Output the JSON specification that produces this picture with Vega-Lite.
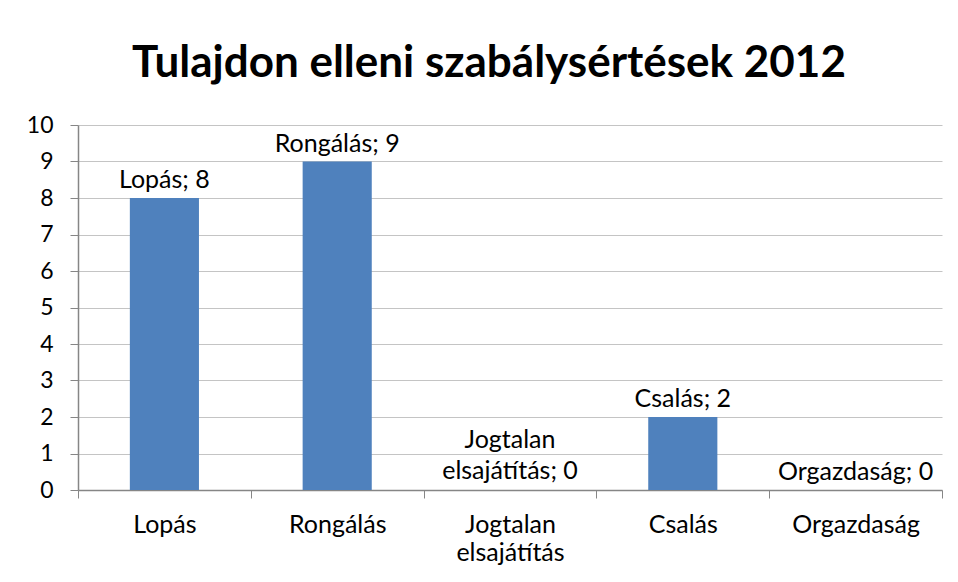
{
  "$schema": "https://vega.github.io/schema/vega-lite/v6.json",
  "width": 864,
  "height": 365,
  "autosize": {"type": "none"},
  "padding": {"left": 78, "top": 125, "right": 16, "bottom": 92},
  "background": "white",
  "title": {
    "text": "Tulajdon elleni szabálysértések 2012",
    "font": "Lato",
    "fontWeight": "bold",
    "fontSize": 44,
    "color": "#000000",
    "anchor": "middle",
    "dx": -21,
    "offset": 28
  },
  "data": {
    "values": [
      {"cat": "Lopás", "value": 8, "label": "Lopás; 8"},
      {"cat": "Rongálás", "value": 9, "label": "Rongálás; 9"},
      {"cat": "Jogtalan elsajátítás", "value": 0, "label": "Jogtalan\nelsajátítás; 0"},
      {"cat": "Csalás", "value": 2, "label": "Csalás; 2"},
      {"cat": "Orgazdaság", "value": 0, "label": "Orgazdaság; 0"}
    ]
  },
  "config": {
    "view": {"stroke": null},
    "axis": {
      "labelFont": "Lato",
      "labelFontSize": 25,
      "labelColor": "#000000",
      "domainColor": "#868686",
      "tickColor": "#868686",
      "gridColor": "#c4c4c4",
      "title": null
    }
  },
  "encoding": {
    "x": {
      "field": "cat",
      "type": "nominal",
      "sort": null,
      "scale": {"paddingInner": 0, "paddingOuter": 0},
      "axis": {
        "labelAngle": 0,
        "tickBand": "extent",
        "tickSize": 8,
        "labelPadding": 14,
        "labelExpr": "isString(datum.value) ? split(datum.value, ' ') : ''",
        "labelLineHeight": 28,
        "grid": false,
        "domainWidth": 1.5
      }
    },
    "y": {
      "field": "value",
      "type": "quantitative",
      "scale": {"domain": [0, 10], "nice": false},
      "axis": {
        "values": [0, 1, 2, 3, 4, 5, 6, 7, 8, 9, 10],
        "tickSize": 8,
        "labelFontSize": 23,
        "labelPadding": 17,
        "grid": true,
        "domainWidth": 1.5
      }
    }
  },
  "layer": [
    {
      "mark": {"type": "bar", "color": "#4F81BD", "width": {"band": 0.4}}
    },
    {
      "transform": [{"filter": "datum.cat != 'Jogtalan elsajátítás'"}],
      "mark": {
        "type": "text",
        "font": "Lato",
        "fontSize": 25,
        "color": "#000000",
        "baseline": "alphabetic",
        "dy": -10
      },
      "encoding": {"text": {"field": "label"}}
    },
    {
      "transform": [{"filter": "datum.cat == 'Jogtalan elsajátítás'"}],
      "mark": {
        "type": "text",
        "font": "Lato",
        "fontSize": 25,
        "color": "#000000",
        "baseline": "alphabetic",
        "lineBreak": "\n",
        "lineHeight": 31,
        "dy": -42
      },
      "encoding": {"text": {"field": "label"}}
    }
  ]
}
